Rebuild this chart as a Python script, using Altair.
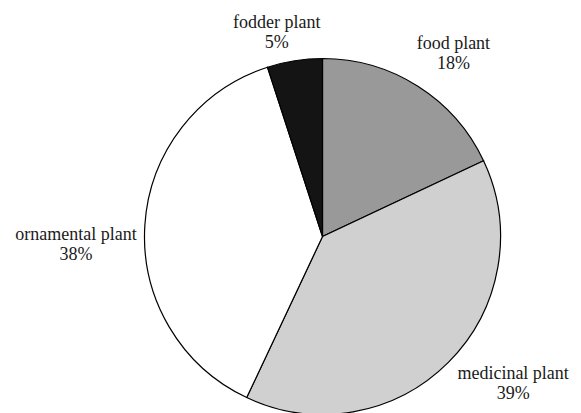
import altair as alt
import pandas as pd

categories = ["food plant", "medicinal plant", "ornamental plant", "fodder plant"]
shares = [18, 39, 38, 5]
colors = ["#999999", "#d0d0d0", "#ffffff", "#141414"]

df = pd.DataFrame({"category": categories, "share": shares, "idx": list(range(len(categories)))})

CX, CY, R = 322.5, 236.5, 178

pie = alt.Chart(df).mark_arc(
    outerRadius=R, stroke="#000000", strokeWidth=1.2
).encode(
    theta=alt.Theta("share:Q", stack=True),
    order=alt.Order("idx:Q"),
    color=alt.Color("category:N", scale=alt.Scale(domain=categories, range=colors), legend=None),
    x=alt.value(CX),
    y=alt.value(CY),
)


def label_layer(cat, radius, dx, dy):
    return alt.Chart(df).transform_window(
        cum="sum(share)", sort=[alt.SortField("idx")]
    ).transform_calculate(
        mid="datum.cum - datum.share / 2",
        label="datum.category + '\\n' + datum.share + '%'",
    ).transform_filter(
        alt.datum.category == cat
    ).mark_text(
        radius=radius, dx=dx, dy=dy, font="Liberation Serif", fontSize=18,
        lineHeight=20, lineBreak="\n", color="#1a1a1a", align="center", baseline="middle",
    ).encode(
        theta=alt.Theta("mid:Q", scale=alt.Scale(domain=[0, 100]), stack=None),
        text=alt.Text("label:N"),
        x=alt.value(CX),
        y=alt.value(CY),
    )


labels = [
    label_layer("food plant", 220, 13, -7),
    label_layer("medicinal plant", 230, 28, -25),
    label_layer("ornamental plant", 246, -1, 14),
    label_layer("fodder plant", 210, -13, -6),
]

chart = alt.layer(pie, *labels).properties(
    width=581, height=413, autosize=alt.AutoSizeParams(type="none"), padding=0
).configure_view(strokeWidth=0)

chart.save("out.html", embed_options={"renderer": "svg", "actions": False})
